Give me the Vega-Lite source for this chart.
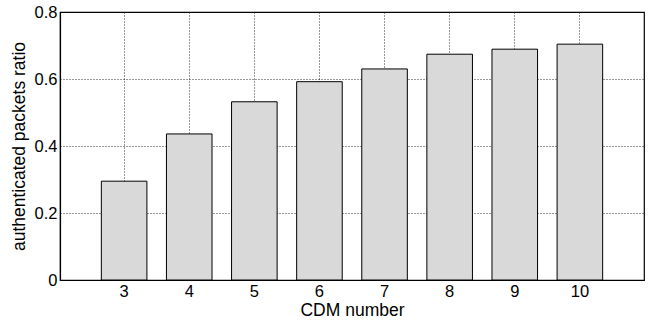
{
  "$schema": "https://vega.github.io/schema/vega-lite/v6.json",
  "autosize": "none",
  "padding": {"left": 60, "top": 12, "right": 5, "bottom": 42},
  "width": 584,
  "height": 268,
  "background": "white",
  "config": {
    "view": {"stroke": "black", "strokeWidth": 1.2},
    "font": "Liberation Sans",
    "axis": {
      "labelFont": "Liberation Sans",
      "titleFont": "Liberation Sans",
      "labelFontSize": 16.5,
      "titleFontSize": 17.5,
      "titleFontWeight": "normal",
      "labelColor": "black",
      "titleColor": "black",
      "domainColor": "black",
      "domainWidth": 1.2,
      "gridColor": "black",
      "gridOpacity": 0.8,
      "gridDash": [1, 2],
      "gridWidth": 1,
      "ticks": false
    }
  },
  "data": {
    "values": [
      {"cdm": "3", "ratio": 0.295},
      {"cdm": "4", "ratio": 0.436},
      {"cdm": "5", "ratio": 0.532},
      {"cdm": "6", "ratio": 0.592},
      {"cdm": "7", "ratio": 0.630},
      {"cdm": "8", "ratio": 0.674},
      {"cdm": "9", "ratio": 0.689},
      {"cdm": "10", "ratio": 0.704}
    ]
  },
  "mark": {"type": "bar", "fill": "#d9d9d9", "stroke": "black", "strokeWidth": 1},
  "encoding": {
    "x": {
      "field": "cdm",
      "type": "ordinal",
      "sort": null,
      "scale": {"paddingInner": 0.3, "paddingOuter": 0.635},
      "axis": {"title": "CDM number", "labelAngle": 0, "grid": true, "bandPosition": 0.5, "labelPadding": 3, "titlePadding": 2}
    },
    "y": {
      "field": "ratio",
      "type": "quantitative",
      "scale": {"domain": [0, 0.8], "nice": false},
      "axis": {"title": "authenticated packets ratio", "values": [0, 0.2, 0.4, 0.6, 0.8], "format": "~g", "labelPadding": 3, "titlePadding": 6}
    }
  }
}
